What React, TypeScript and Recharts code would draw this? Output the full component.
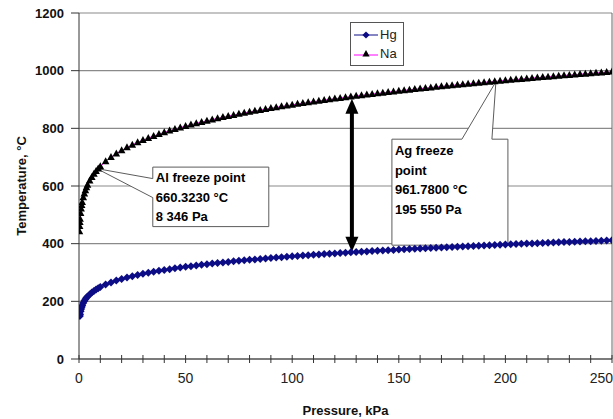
import React from "react";
import {
  LineChart,
  Line,
  XAxis,
  YAxis,
  CartesianGrid,
  Legend,
  ReferenceDot,
  ReferenceLine,
} from "recharts";

// pressure in kPa (x), temperatures in °C
const pressureKPa = [
  0.2, 0.3, 0.4, 0.5, 0.75, 1, 1.25, 1.5, 2, 2.5, 3, 3.5, 4, 5, 6, 7, 8, 9, 10,
  12.5, 15, 17.5, 20, 22.5, 25, 27.5, 30, 32.5, 35, 37.5, 40, 42.5, 45, 47.5, 50,
  52.5, 55, 57.5, 60, 62.5, 65, 67.5, 70, 72.5, 75,
  77.5, 80, 82.5, 85, 87.5, 90, 92.5, 95, 97.5, 100,
  102.5, 105, 107.5, 110, 112.5, 115, 117.5, 120, 122.5, 125,
  127.5, 130, 132.5, 135, 137.5, 140, 142.5, 145, 147.5, 150,
  152.5, 155, 157.5, 160, 162.5, 165, 167.5, 170, 172.5, 175,
  177.5, 180, 182.5, 185, 187.5, 190, 192.5, 195, 197.5, 200,
  202.5, 205, 207.5, 210, 212.5, 215, 217.5, 220, 222.5, 225,
  227.5, 230, 232.5, 235, 237.5, 240, 242.5, 245, 247.5, 250,
];

const hgTemp = [
  null, null, 149.5, 155.1, 165.9, 173.8, 180.2, 185.5, 194.2, 201.1, 207.0, 212.0, 216.5, 224.1, 230.6, 236.1, 241.0, 245.5, 249.5,
  258.2, 265.5, 271.9, 277.5, 282.6, 287.2, 291.5, 295.4, 299.1, 302.5, 305.7, 308.8, 311.7, 314.5, 317.1, 319.6,
  322.1, 324.4, 326.6, 328.8, 330.9, 332.9, 334.8, 336.7, 338.6, 340.4,
  342.1, 343.8, 345.5, 347.1, 348.6, 350.2, 351.7, 353.2, 354.6, 356.0,
  357.4, 358.7, 360.0, 361.3, 362.6, 363.9, 365.1, 366.3, 367.5, 368.7,
  369.8, 370.9, 372.0, 373.1, 374.2, 375.3, 376.4, 377.4, 378.4, 379.4,
  380.4, 381.4, 382.4, 383.3, 384.3, 385.2, 386.1, 387.0, 387.9, 388.8,
  389.7, 390.5, 391.4, 392.2, 393.1, 393.9, 394.7, 395.5, 396.3, 397.1,
  397.9, 398.7, 399.5, 400.2, 401.0, 401.7, 402.5, 403.2, 403.9, 404.6,
  405.4, 406.1, 406.8, 407.5, 408.2, 408.8, 409.5, 410.2, 410.9, 411.5,
];

const naTemp = [
  442.8, 461.0, 474.5, 485.3, 505.8, 521.0, 533.2, 543.4, 560.1, 573.6, 584.8, 594.6, 603.3, 618.2, 630.8, 641.6, 651.3, 659.9, 667.8,
  685.0, 699.5, 712.1, 723.3, 733.4, 742.6, 751.0, 758.9, 766.2, 773.1, 779.6, 785.7, 791.5, 797.1, 802.4, 807.5,
  812.4, 817.1, 821.7, 826.0, 830.2, 834.3, 838.3, 842.2, 845.9, 849.5,
  853.1, 856.5, 859.9, 863.2, 866.4, 869.5, 872.5, 875.5, 878.5, 881.3,
  884.2, 886.9, 889.6, 892.3, 894.9, 897.5, 900.0, 902.5, 904.9, 907.3,
  909.7, 912.0, 914.3, 916.5, 918.8, 920.9, 923.1, 925.2, 927.3, 929.4,
  931.5, 933.5, 935.5, 937.4, 939.4, 941.3, 943.2, 945.0, 946.9, 948.8,
  950.6, 952.4, 954.1, 955.9, 957.6, 959.3, 961.0, 962.7, 964.4, 966.0,
  967.6, 969.2, 970.8, 972.4, 974.0, 975.5, 977.1, 978.6, 980.1, 981.6,
  983.1, 984.6, 986.0, 987.5, 988.9, 990.4, 991.8, 993.2, 994.6, 996.0,
];

const xTicks = [
  0, 10, 20, 30, 40, 50, 60, 70, 80, 90, 100, 110, 120, 130, 140, 150, 160,
  170, 180, 190, 200, 210, 220, 230, 240, 250,
];
const yTicks = [0, 200, 400, 600, 800, 1000, 1200];

const alFreeze = { pressure: 8.346, temp: 660.323 };
const alLines = ["Al freeze point", "660.3230 °C", "8 346 Pa"];
const agFreeze = { pressure: 195.55, temp: 961.78 };
const agLines = ["Ag freeze", "point", "961.7800 °C", "195 550 Pa"];
const gapArrow = { pressure: 128, low: 372, high: 903 };

const data = pressureKPa.map((p, i) => ({ p, hg: hgTemp[i], na: naTemp[i] }));

const FONT = "'Liberation Sans', Arial, sans-serif";
const HG = "#0c0c86";
const NA_LINE = "#ff00ff";
const CALLOUT = "#5c5c5c";

const Diamond = (props: any) => {
  const { cx, cy, index } = props;
  if (cx == null || cy == null) return <g key={index} />;
  const r = 4;
  return (
    <polygon
      key={index}
      points={`${cx},${cy - r} ${cx + r},${cy} ${cx},${cy + r} ${cx - r},${cy}`}
      fill={HG}
    />
  );
};

const Triangle = (props: any) => {
  const { cx, cy, index } = props;
  if (cx == null || cy == null) return <g key={index} />;
  return (
    <polygon
      key={index}
      points={`${cx},${cy - 4.2} ${cx + 3.8},${cy + 2.8} ${cx - 3.8},${cy + 2.8}`}
      fill="#000"
    />
  );
};

const XTick = (props: any) => {
  const { x, y, payload } = props;
  const v = payload.value;
  if (v % 50 !== 0) return <g />;
  const last = v === 250;
  return (
    <text
      x={last ? x + 1 : x}
      y={y}
      dy="0.71em"
      textAnchor={last ? "end" : "middle"}
      fontFamily={FONT}
      fontSize={14}
      fill="#222"
    >
      {v}
    </text>
  );
};

const AlCallout = (props: any) => {
  const { cx, cy } = props;
  const left = cx + 56;
  const top = cy - 1.5;
  const right = cx + 172;
  const bottom = cy + 58;
  const d = `M${left},${top} H${right} V${bottom} H${left} V${cy + 29} L${cx},${cy} L${left},${cy + 10} Z`;
  return (
    <g>
      <path d={d} fill="#fff" stroke={CALLOUT} strokeWidth={1} />
      {alLines.map((s, i) => (
        <text
          key={s}
          x={left + 3}
          y={top + 15 + i * 19.5}
          fontFamily={FONT}
          fontSize={13}
          fontWeight="bold"
          fill="#000"
        >
          {s}
        </text>
      ))}
    </g>
  );
};

const AgCallout = (props: any) => {
  const { cx, cy } = props;
  const left = cx - 104;
  const top = cy + 57.5;
  const right = cx + 12;
  const bottom = cy + 163.5;
  const d = `M${left},${top} H${cx - 34} L${cx},${cy} L${cx - 4},${top} H${right} V${bottom} H${left} Z`;
  return (
    <g>
      <path d={d} fill="#fff" stroke={CALLOUT} strokeWidth={1} />
      {agLines.map((s, i) => (
        <text
          key={s}
          x={left + 3}
          y={top + 16 + i * 19.5}
          fontFamily={FONT}
          fontSize={13}
          fontWeight="bold"
          fill="#000"
        >
          {s}
        </text>
      ))}
    </g>
  );
};

const DoubleArrow = (props: any) => {
  const { x1, y1, y2 } = props;
  const top = Math.min(y1, y2);
  const bot = Math.max(y1, y2);
  const head = 15;
  const hw = 6.5;
  return (
    <g>
      <line x1={x1} y1={top + head - 1} x2={x1} y2={bot - head + 1} stroke="#000" strokeWidth={4} />
      <polygon points={`${x1},${top} ${x1 - hw},${top + head} ${x1 + hw},${top + head}`} fill="#000" />
      <polygon points={`${x1},${bot} ${x1 - hw},${bot - head} ${x1 + hw},${bot - head}`} fill="#000" />
    </g>
  );
};

const LegendBox = () => (
  <div
    style={{
      border: "1px solid #555",
      background: "#fff",
      padding: "2px 3px 2px 3px",
      fontFamily: FONT,
      fontSize: 13,
      lineHeight: "19px",
      color: "#222",
    }}
  >
    <div style={{ display: "flex", alignItems: "center" }}>
      <svg width={24} height={10} style={{ marginRight: 2 }}>
        <line x1={0} y1={5} x2={24} y2={5} stroke={HG} strokeWidth={1} />
        <polygon points="12,1.4 15.6,5 12,8.6 8.4,5" fill={HG} />
      </svg>
      Hg
    </div>
    <div style={{ display: "flex", alignItems: "center" }}>
      <svg width={24} height={10} style={{ marginRight: 2 }}>
        <line x1={0} y1={6} x2={24} y2={6} stroke={NA_LINE} strokeWidth={1} />
        <polygon points="12,1 15.6,7.6 8.4,7.6" fill="#000" />
      </svg>
      Na
    </div>
  </div>
);

export default function App() {
  return (
    <div style={{ position: "absolute", left: 0, top: 0, width: 613, height: 419, background: "#fff" }}>
      <LineChart
        width={613}
        height={419}
        data={data}
        margin={{ top: 13, right: 1, bottom: 0, left: 0 }}
      >
        <CartesianGrid vertical={false} stroke="#8a8a8a" strokeWidth={1.2} />
        <XAxis
          dataKey="p"
          type="number"
          domain={[0, 250]}
          ticks={xTicks}
          interval={0}
          height={60}
          tickSize={8}
          tickMargin={6}
          tickLine={{ stroke: "#333", transform: "translate(0,-4)" }}
          tick={<XTick />}
          stroke="#333"
          allowDataOverflow
          label={{
            value: "Pressure, kPa",
            position: "insideBottom",
            offset: 4,
            style: { fontSize: 13, fontWeight: "bold", fill: "#111", fontFamily: FONT },
          }}
        />
        <YAxis
          type="number"
          domain={[0, 1200]}
          ticks={yTicks}
          interval={0}
          width={79}
          tickSize={8}
          tickMargin={7}
          tick={{ fontSize: 13, fontWeight: "bold", fill: "#111", fontFamily: FONT }}
          stroke="#333"
          label={{
            value: "Temperature, °C",
            angle: -90,
            position: "insideLeft",
            offset: 21,
            style: { textAnchor: "middle", fontSize: 13, fontWeight: "bold", fill: "#111", fontFamily: FONT },
          }}
        />
        <ReferenceLine x={250} stroke="#666" />
        <Legend
          layout="vertical"
          align="center"
          verticalAlign="middle"
          content={() => <LegendBox />}
          wrapperStyle={{ position: "absolute", left: 350, top: 22, width: 54, height: 44 }}
        />
        <Line
          dataKey="hg"
          name="Hg"
          stroke={HG}
          strokeWidth={1}
          dot={(p: any) => <Diamond {...p} key={p.index} />}
          activeDot={false}
          isAnimationActive={false}
        />
        <Line
          dataKey="na"
          name="Na"
          stroke={NA_LINE}
          strokeWidth={1}
          dot={(p: any) => <Triangle {...p} key={p.index} />}
          activeDot={false}
          isAnimationActive={false}
        />
        <ReferenceLine
          segment={[
            { x: gapArrow.pressure, y: gapArrow.low },
            { x: gapArrow.pressure, y: gapArrow.high },
          ]}
          shape={(p: any) => <DoubleArrow {...p} />}
        />
        <ReferenceDot x={alFreeze.pressure} y={alFreeze.temp} shape={(p: any) => <AlCallout {...p} />} />
        <ReferenceDot x={agFreeze.pressure} y={agFreeze.temp} shape={(p: any) => <AgCallout {...p} />} />
      </LineChart>
    </div>
  );
}
